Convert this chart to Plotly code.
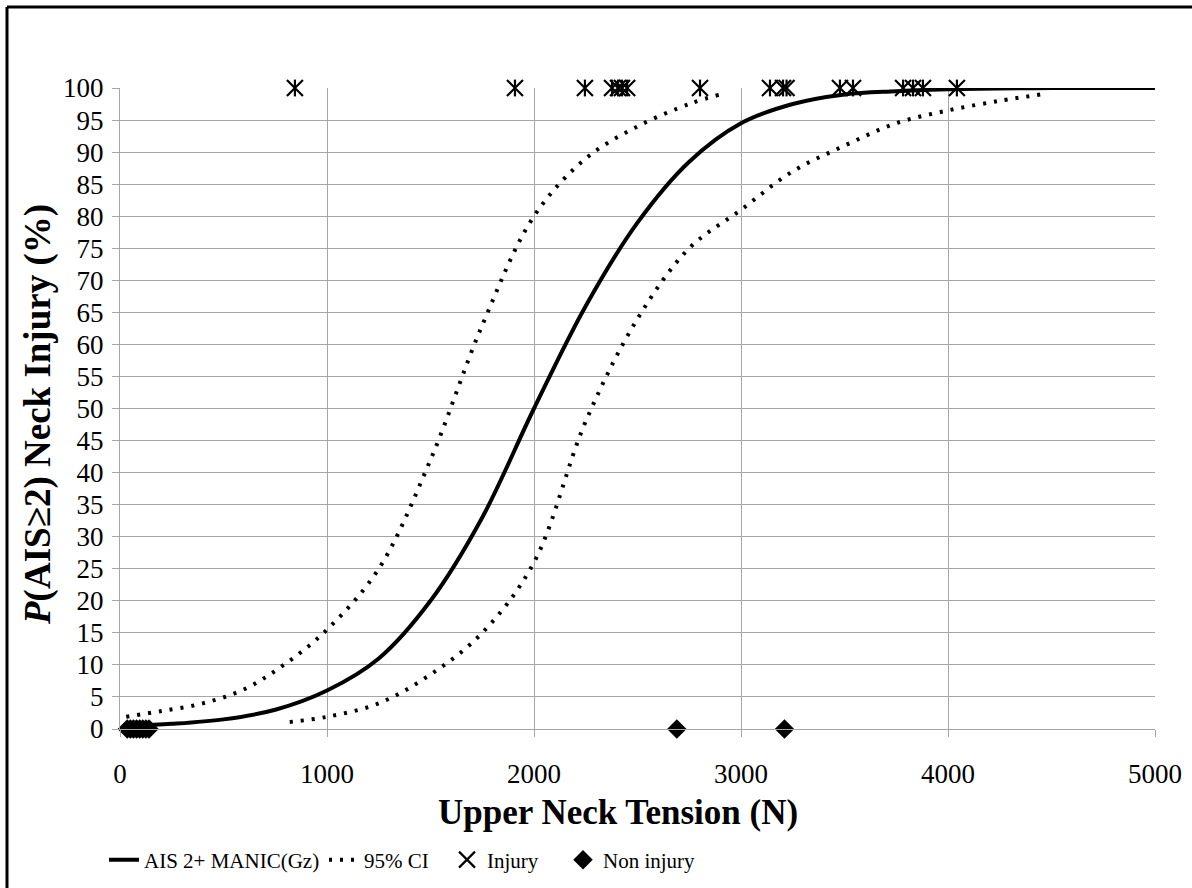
import plotly.graph_objects as go

# ---- data ----
fit_x = [50, 250, 500, 750, 1000, 1250, 1500, 1750, 2000, 2250, 2500, 2750, 3000, 3250, 3500, 3750, 4000, 4500, 5000]
fit_y = [0.5, 0.8, 1.5, 3, 6, 11, 20, 33, 50, 66, 79, 88.5, 94.5, 97.5, 99, 99.5, 99.8, 100, 100]

ci_hi_x = [30, 200, 400, 600, 800, 1000, 1250, 1500, 1750, 2000, 2250, 2500, 2750, 2900]
ci_hi_y = [1.9, 2.8, 4.0, 6.2, 10.2, 15.5, 25, 42, 63, 80, 89, 94, 97.5, 99]

ci_lo_x = [820, 1000, 1250, 1500, 1750, 2000, 2250, 2500, 2750, 3000, 3250, 3500, 3750, 4000, 4250, 4450]
ci_lo_y = [1.1, 1.9, 4, 8.5, 15, 26, 48, 64, 75, 81, 87, 91, 94.5, 96.5, 98, 99]

injury_x = [845, 1908, 2246, 2377, 2406, 2425, 2450, 2802, 3140, 3203, 3220, 3478, 3541, 3783, 3831, 3879, 4043]
injury_y = [100] * len(injury_x)

noninj_x = [35, 50, 65, 80, 95, 110, 125, 140, 2690, 3210]
noninj_y = [0] * len(noninj_x)

x_ticks = [0, 1000, 2000, 3000, 4000, 5000]
y_ticks = list(range(0, 101, 5))

FONT = "Liberation Serif, Times New Roman, serif"

# plot-area pixel geometry (for paper-coordinate placement of decorations)
L, R, T, B = 120, 1155, 88, 729
W, H = 1192, 888
def px(xp):
    return (xp - L) / (R - L)
def py(yp):
    return (B - yp) / (B - T)

fig = go.Figure()
fig.add_trace(go.Scatter(x=fit_x, y=fit_y, mode="lines", name="AIS 2+ MANIC(Gz)", legend="legend",
                         line=dict(color="black", width=4, shape="spline"), cliponaxis=False))
fig.add_trace(go.Scatter(x=ci_hi_x, y=ci_hi_y, mode="lines", name="95% CI", legend="legend2",
                         line=dict(color="black", width=4, dash="3px,8px", shape="spline"), cliponaxis=False))
fig.add_trace(go.Scatter(x=ci_lo_x, y=ci_lo_y, mode="lines", name="95% CI", legend="legend2", showlegend=False,
                         line=dict(color="black", width=4, dash="3px,8px", shape="spline"), cliponaxis=False))
fig.add_trace(go.Scatter(x=injury_x, y=injury_y, mode="markers", name="Injury", legend="legend3",
                         marker=dict(symbol="x-thin-open", size=16, color="black", line=dict(width=2.2, color="black")),
                         cliponaxis=False))
fig.add_trace(go.Scatter(x=injury_x, y=injury_y, mode="markers", name="Injury", legend="legend3", showlegend=False,
                         marker=dict(symbol="line-ns-open", size=12, color="black", line=dict(width=2.2, color="black")),
                         cliponaxis=False))
fig.add_trace(go.Scatter(x=noninj_x, y=noninj_y, mode="markers", name="Non injury", legend="legend4",
                         marker=dict(symbol="diamond", size=15, color="black"), cliponaxis=False))

# frame (left and top border of the chart area)
fig.add_shape(type="line", xref="paper", yref="paper", x0=px(7), x1=px(7), y0=py(7), y1=py(H),
              line=dict(color="black", width=3))
fig.add_shape(type="line", xref="paper", yref="paper", x0=px(7), x1=px(W), y0=py(7), y1=py(7),
              line=dict(color="black", width=3))

# axis titles
fig.add_annotation(xref="paper", yref="paper", x=px(618), y=py(812), xanchor="center", yanchor="middle",
                   text="<b>Upper Neck Tension (N)</b>", showarrow=False,
                   font=dict(family=FONT, size=35, color="black"))
fig.add_annotation(xref="paper", yref="paper", x=px(38), y=py(415), xanchor="center", yanchor="middle",
                   text="<b><i>P</i>(AIS≥2) Neck Injury (%)</b>", showarrow=False, textangle=-90,
                   font=dict(family=FONT, size=37, color="black"))

leg_font = dict(family=FONT, size=21, color="black")
def leg(xp):
    return dict(orientation="h", x=px(xp), xanchor="left", y=py(860), yanchor="middle",
                font=leg_font, itemwidth=30, bgcolor="rgba(0,0,0,0)")

axis_common = dict(showgrid=True, gridcolor="#a6a6a6", gridwidth=1,
                   showline=True, linecolor="#a6a6a6", linewidth=1,
                   ticks="outside", ticklen=7, tickcolor="#a6a6a6",
                   zeroline=False, tickfont=dict(family=FONT, size=27, color="black"))

fig.update_layout(
    width=W, height=H,
    margin=dict(l=L, r=W - R, t=T, b=H - B, autoexpand=False),
    paper_bgcolor="white", plot_bgcolor="white",
    font=dict(family=FONT, size=27, color="black"),
    showlegend=True,
    legend=leg(104), legend2=leg(324), legend3=leg(447), legend4=leg(563),
    xaxis=dict(range=[0, 5000], tickvals=x_ticks, ticktext=[str(v) for v in x_ticks],
               ticklabelstandoff=14, **axis_common),
    yaxis=dict(range=[0, 100], tickvals=y_ticks, ticktext=[str(v) for v in y_ticks],
               ticklabelstandoff=3, **axis_common),
)

fig.write_html("out.html", config={"displayModeBar": False},
               post_script="document.body.style.margin='0';document.body.style.overflow='hidden';")
